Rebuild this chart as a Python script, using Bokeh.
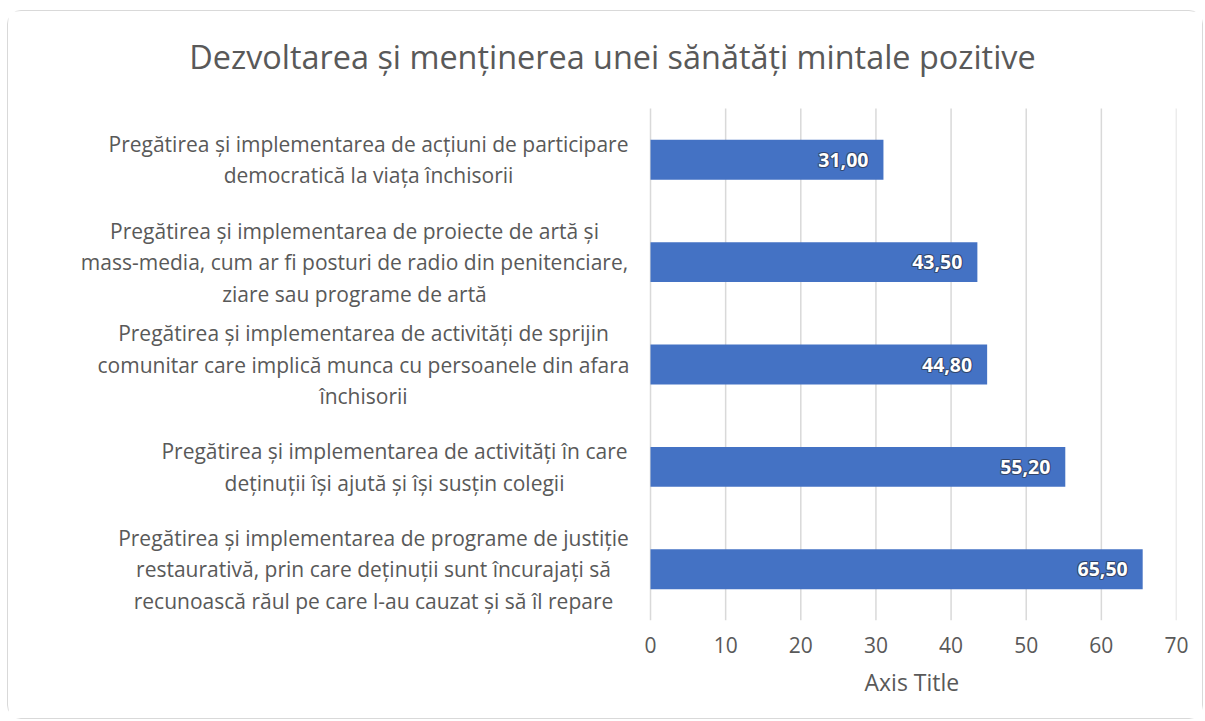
from bokeh.plotting import figure
from bokeh.models import Range1d, FixedTicker, ColumnDataSource, LabelSet, Label, Title
from bokeh.core.properties import value
from bokeh.embed import file_html
from bokeh.resources import INLINE

title_text = "Dezvoltarea și menținerea unei sănătăți mintale pozitive"
categories = [
    "Pregătirea și implementarea de acțiuni de participare\ndemocratică la viața închisorii",
    "Pregătirea și implementarea de proiecte de artă și\nmass-media, cum ar fi posturi de radio din penitenciare,\nziare sau programe de artă",
    "Pregătirea și implementarea de activități de sprijin\ncomunitar care implică munca cu persoanele din afara\nînchisorii",
    "Pregătirea și implementarea de activități în care\ndeținuții își ajută și își susțin colegii",
    "Pregătirea și implementarea de programe de justiție\nrestaurativă, prin care deținuții sunt încurajați să\nrecunoască răul pe care l-au cauzat și să îl repare",
]
values = [31.00, 43.50, 44.80, 55.20, 65.50]
x_ticks = [0, 10, 20, 30, 40, 50, 60, 70]
axis_title = "Axis Title"

FONT = "Open Sans"
GREY = "#595959"
n = len(categories)
ypos = [n - 1 - i for i in range(n)]
labels_txt = [f"{v:.2f}".replace(".", ",") for v in values]
# horizontal centres of the category label blocks (pixels from frame left)
label_cx = [360, 346, 355, 386, 365]
LINE_GAP = 31.5

src = ColumnDataSource(dict(y=ypos, v=values, t=labels_txt))

# one row per text line of the category labels, centred line by line
ly, lt, lx, loff = [], [], [], []
for cat, y, cx in zip(categories, ypos, label_cx):
    lines = cat.split("\n")
    k = len(lines)
    for j, line in enumerate(lines):
        ly.append(y)
        lt.append(line)
        lx.append(cx)
        loff.append(((k - 1) / 2 - j) * LINE_GAP)
lsrc = ColumnDataSource(dict(y=ly, t=lt, x=lx, off=loff))

# grid lines span only the category band
gsrc = ColumnDataSource(dict(x=x_ticks, y0=[-0.5] * len(x_ticks), y1=[n - 0.5] * len(x_ticks)))

PX_PER_UNIT = 7.514      # px per value unit
PX_PER_CAT = 102.4       # px per category band
p = figure(width=1196, height=709, output_backend="svg", toolbar_location=None,
           x_range=Range1d(-642 / PX_PER_UNIT, 70),
           y_range=Range1d(-0.5, n - 0.5 + 97 / PX_PER_CAT),
           min_border_left=0, min_border_right=28, min_border_top=0, min_border_bottom=100)
p.styles = {"border": "1px solid #d9d9d9", "border-radius": "14px",
            "margin": "10px 0px 0px 7px"}
p.outline_line_color = None
p.background_fill_color = "white"
p.border_fill_color = "white"

p.yaxis.visible = False
p.ygrid.grid_line_color = None
p.xgrid.grid_line_color = None
p.segment(x0="x", y0="y0", x1="x", y1="y1", source=gsrc, line_color="#d9d9d9", line_width=1.5)

p.xaxis.ticker = FixedTicker(ticks=x_ticks)
p.xaxis.axis_line_color = None
p.xaxis.major_tick_line_color = None
p.xaxis.minor_tick_line_color = None
p.xaxis.major_tick_out = 0
p.xaxis.major_tick_in = 0
p.xaxis.major_label_standoff = 16
p.xaxis.major_label_text_font = FONT
p.xaxis.major_label_text_font_size = "21px"
p.xaxis.major_label_text_color = GREY

p.add_layout(Title(text=axis_title, align="left", offset=856, text_font=FONT,
                   text_font_size="23px", text_font_style="normal", text_color=GREY,
                   standoff=16), "below")

p.hbar(y="y", right="v", left=0, height=0.39, source=src, fill_color="#4472C4", line_color=None)

# dark halo behind value labels
for dx, dy in [(-1, 0), (1, 0), (0, -1), (0, 1), (-1, -1), (1, 1), (-1, 1), (1, -1)]:
    p.text(x="v", y="y", text="t", source=src, x_offset=-15 + dx, y_offset=dy,
           text_align="right", text_baseline="middle", text_font=value(FONT),
           text_font_style="bold", text_font_size="19.5px", text_color="#2f3f5f", text_alpha=0.55)
p.text(x="v", y="y", text="t", source=src, x_offset=-15, text_align="right",
       text_baseline="middle", text_font=value(FONT), text_font_style="bold",
       text_font_size="19.5px", text_color="white")

cats = LabelSet(x="x", y="y", text="t", y_offset="off", source=lsrc, x_units="screen",
                y_units="data", text_align="center", text_baseline="middle",
                text_font=value(FONT), text_font_size="21px", text_color=GREY)
p.add_layout(cats)

# chart title: centred, 565 px above the bottom of the frame
p.add_layout(Label(x=604, y=565, x_units="screen", y_units="screen", text=title_text,
                   text_align="center", text_baseline="middle", text_font=FONT,
                   text_font_size="32.4px", text_color=GREY))

open("out.html", "w").write(file_html(p, INLINE))
